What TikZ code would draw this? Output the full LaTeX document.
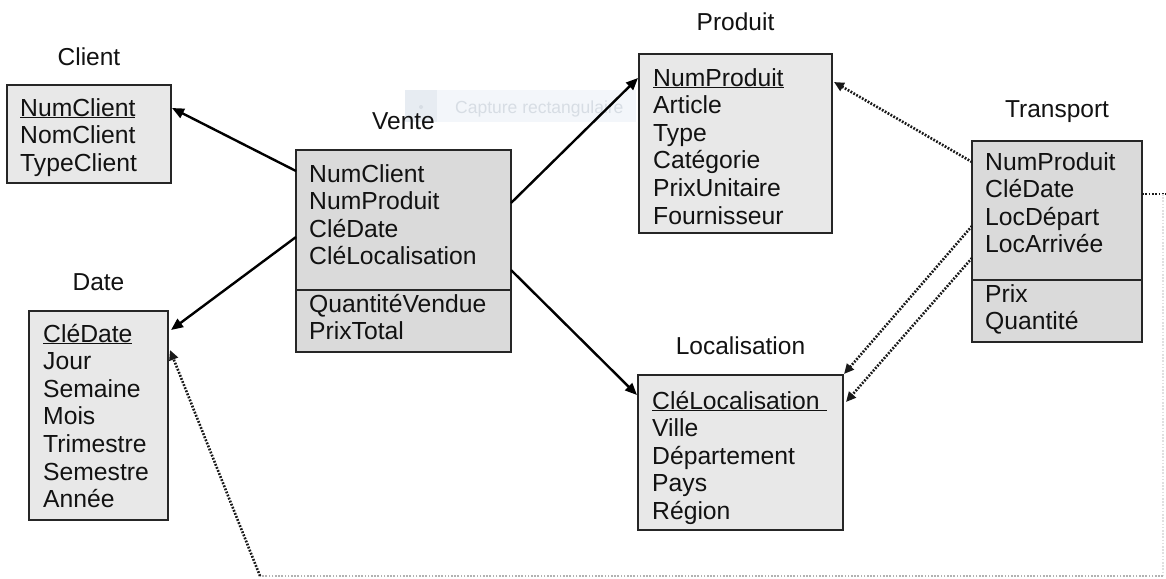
\documentclass[tikz,border=0pt]{standalone}
\usepackage{fontspec}
\setmainfont{Liberation Sans}
\usetikzlibrary{arrows.meta,calc}
\definecolor{dimfill}{HTML}{E8E8E8}
\definecolor{factfill}{HTML}{DADADA}
\definecolor{ink}{HTML}{121212}
\definecolor{tipbg}{HTML}{F3F6FA}
\definecolor{tipicon}{HTML}{E7ECF2}
\definecolor{tiptext}{HTML}{D7DDE4}

% one attribute per line, baselines 27.6pt apart
\newcommand\fieldlist[4]{%
  \foreach \t [count=\i] in {#4} {%
    \node[field, name=#1-\i] at ({#2},{#3+27.6*(\i-1)}) {\t};}}

\begin{document}
\begin{tikzpicture}[x=1pt,y=-1pt,
  tbl/.style={draw=black!85, line width=1.5pt, rectangle, anchor=north west,
              inner sep=0pt, outer sep=0pt},
  dimtbl/.style={tbl, fill=dimfill},
  facttbl/.style={tbl, fill=factfill},
  field/.style={anchor=base west, inner sep=0pt, text=ink,
                font=\fontsize{24.7}{27.6}\selectfont},
  tname/.style={anchor=base, inner sep=0pt, text=ink,
                font=\fontsize{24.5}{27}\selectfont},
  fk/.style={line width=2.4pt, draw=black, -{Triangle[length=12pt,width=10pt]}},
  dotlink/.style={line width=2.6pt, draw=black!90, dash pattern=on 1.8pt off 1.5pt},
  fkdot/.style={dotlink, -{Triangle[length=10pt,width=9pt]}},
  faint/.style={line width=1.4pt, dash pattern=on 1.6pt off 1.6pt},
]
\useasboundingbox (0,0) rectangle (1166,578);
\fill[white] (0,0) rectangle (1166,578);

% screen-capture tooltip
\node[fill=tipbg, minimum width=231, minimum height=32, anchor=north west,
      inner sep=0pt] (tip) at (405,90) {};
\node[fill=tipicon, minimum width=32, minimum height=32, anchor=north west,
      inner sep=0pt] (tipicon) at (405,90) {};
\node[circle, fill=tiptext, minimum size=4pt, inner sep=0pt] (tipdot) at (421,107) {};
\node[anchor=base west, inner sep=0pt, text=tiptext,
      font=\fontsize{17.5}{20}\selectfont] (tiptxt) at (455,113) {Capture rectangulaire};

% tables
\node[dimtbl, minimum width=164, minimum height=98]  (client)    at (7,85)    {};
\node[facttbl, minimum width=215, minimum height=202] (vente)    at (296,150) {};
\node[dimtbl, minimum width=193, minimum height=179] (produit)   at (639,54)  {};
\node[facttbl, minimum width=170, minimum height=201] (transport) at (972,141) {};
\node[dimtbl, minimum width=139, minimum height=209] (date)      at (29,311)  {};
\node[dimtbl, minimum width=205, minimum height=155] (loc)       at (638,375) {};

\draw[black!85, line width=1.5pt] ($(vente.north west)+(0,140)$) -- ($(vente.north east)+(0,140)$);
\draw[black!85, line width=1.5pt] ($(transport.north west)+(0,139)$) -- ($(transport.north east)+(0,139)$);

% table names
\node[tname] (client-t)    at (89,65)    {Client};
\node[tname] (vente-t)     at (403.5,129) {Vente};
\node[tname] (produit-t)   at (735.5,31) {Produit};
\node[tname] (transport-t) at (1057,117) {Transport};
\node[tname] (date-t)      at (98.5,290) {Date};
\node[tname] (loc-t)       at (740.5,354) {Localisation};

% attributes
\fieldlist{cf}{20}{116}{\underline{NumClient},NomClient,TypeClient}
\fieldlist{vk}{309}{182}{NumClient,NumProduit,CléDate,CléLocalisation}
\fieldlist{vm}{309}{312}{QuantitéVendue,PrixTotal}
\fieldlist{pf}{653}{86}{\underline{NumProduit},Article,Type,Catégorie,PrixUnitaire,Fournisseur}
\fieldlist{tk}{985}{170}{NumProduit,CléDate,LocDépart,LocArrivée}
\fieldlist{tm}{985}{302}{Prix,Quantité}
\fieldlist{df}{43}{342}{\underline{CléDate},Jour,Semaine,Mois,Trimestre,Semestre,Année}
\fieldlist{lf}{652}{409}{\underline{CléLocalisation\ },Ville,Département,Pays,Région}

% foreign keys of Vente
\draw[fk] ($(vente.north west)+(0,21)$) -- ($(client.north east)+(1,23)$);
\draw[fk] ($(vente.north west)+(0,87)$) -- ($(date.north east)+(3,19)$);
\draw[fk] ($(vente.north east)+(0,53)$) -- ($(produit.north west)+(-1,24)$);
\draw[fk] ($(vente.north east)+(0,120)$) -- ($(loc.north west)+(-1,20)$);

% foreign keys of Transport
\draw[fkdot] ($(transport.north west)+(0,21)$) -- ($(produit.north east)+(2,28)$);
\draw[fkdot] ($(transport.north west)+(0,85)$) -- ($(loc.north east)+(1,-1)$);
\draw[fkdot] ($(transport.north west)+(0,117)$) -- ($(loc.north east)+(3,27)$);

\coordinate (rEdge) at (1166,194);
\coordinate (rTurn) at (1163,194);
\coordinate (rLow)  at (1163,576);
\coordinate (bTurn) at (260,576);
\draw[dotlink] ($(transport.north east)+(0,53)$) -- (rEdge);
\draw[faint, black!12] (rTurn) -- (rLow);
\draw[faint, black!30] (rLow) -- (bTurn);
\draw[fkdot] (bTurn) -- ($(date.north east)+(2,39)$);
\end{tikzpicture}
\end{document}
